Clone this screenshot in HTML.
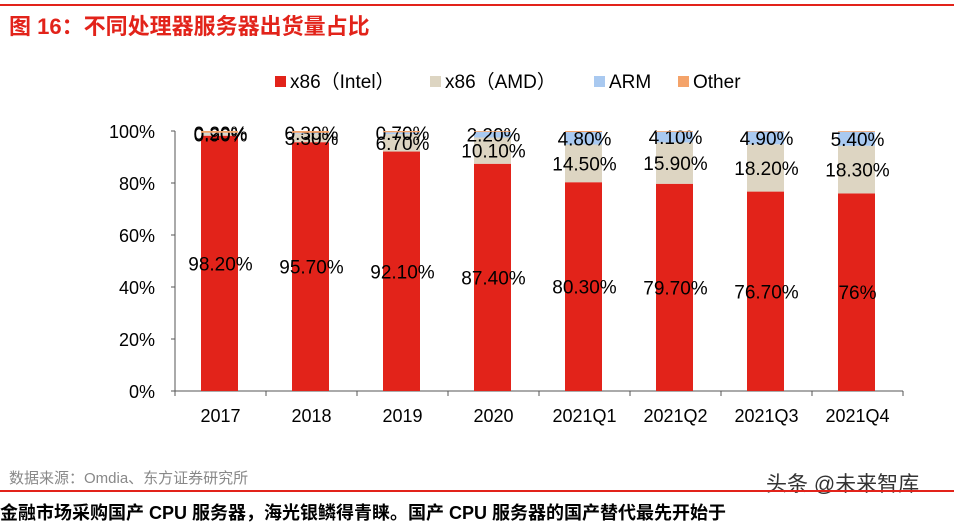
<!DOCTYPE html>
<html><head><meta charset="utf-8"><style>
body{margin:0;width:954px;height:508px;background:#fff;overflow:hidden;font-family:"Liberation Sans","Noto Sans CJK SC",sans-serif;position:relative}
.abs{position:absolute}
</style></head><body>
<div class="abs" style="left:0;top:4px;width:954px;height:2px;background:#e2231a"></div>
<div class="abs" style="left:9px;top:9px;font-size:22px;font-weight:bold;color:#e2231a;font-family:'Liberation Sans','Noto Sans CJK SC',sans-serif">图 16：不同处理器服务器出货量占比</div>
<svg class="abs" style="left:0;top:0" width="954" height="508" id="chart"></svg>
<div class="abs" style="left:9px;top:467px;font-size:15px;color:#888">数据来源：Omdia、东方证券研究所</div>
<div class="abs" style="left:766px;top:468px;font-size:21px;color:#333">头条 @未来智库</div>
<div class="abs" style="left:0;top:490px;width:954px;height:2px;background:#e2231a"></div>
<div class="abs" style="left:0;top:499px;font-size:18px;font-weight:bold;color:#000;white-space:nowrap">金融市场采购国产 CPU 服务器，海光银鳞得青睐。国产 CPU 服务器的国产替代最先开始于</div>
<script>
const categories=["2017","2018","2019","2020","2021Q1","2021Q2","2021Q3","2021Q4"];
const intel=[98.2,95.7,92.1,87.4,80.3,79.7,76.7,76];
const amd=[0.9,3.3,6.7,10.1,14.5,15.9,18.2,18.3];
const arm=[0.2,0.3,0.7,2.2,4.8,4.1,4.9,5.4];
const other=[0.7,0.7,0.5,0.3,0.4,0.3,0.2,0.3];
const intelLabels=["98.20%","95.70%","92.10%","87.40%","80.30%","79.70%","76.70%","76%"];
const amdLabels=["0.90%","3.30%","6.70%","10.10%","14.50%","15.90%","18.20%","18.30%"];
const armLabels=["0.20%","0.30%","0.70%","2.20%","4.80%","4.10%","4.90%","5.40%"];
const yTicks=[0,20,40,60,80,100];
const ns="http://www.w3.org/2000/svg";
const svg=document.getElementById('chart');
const x0=175,x1=903,y0=391,y1=131;
const band=(x1-x0)/categories.length;
const xs=i=>x0+band*(i+0.5);
const ys=v=>y0-(v/100)*(y0-y1);
function mk(t,a){const e=document.createElementNS(ns,t);for(const k in a)e.setAttribute(k,a[k]);svg.appendChild(e);return e;}
let e;
e=mk('line',{x1:x0,y1:y1,x2:x0,y2:y0,stroke:'#555','stroke-width':1});


e=mk('line',{x1:x0,y1:y0,x2:x1,y2:y0,stroke:'#555','stroke-width':1});


yTicks.forEach(v=>{
 mk('line',{x1:x0-4,y1:ys(v),x2:x0,y2:ys(v),stroke:'#555'});
 e=mk('text',{x:x0-20,y:ys(v)+7,'text-anchor':'end','font-size':18,fill:'#000'});e.textContent=v+'%';
 
 
});
for(let i=0;i<=categories.length;i++)mk('line',{x1:x0+band*i,y1:y0,x2:x0+band*i,y2:y0+5,stroke:'#555'});
const series=[[intel,'#e2231a','intel'],[amd,'#ddd5c2','amd'],[arm,'#a9c9f0','arm'],[other,'#f4a36a','other']];
const labs=[intelLabels,amdLabels,armLabels];
const bw=37;
categories.forEach((c,i)=>{
 let base=0;
 series.forEach((s,k)=>{
  const v=s[0][i];
  e=mk('rect',{x:xs(i)-bw/2-1,y:ys(base+v),width:bw,height:ys(base)-ys(base+v),fill:s[1]});
  
  
  if(k<3){
   const t=mk('text',{x:xs(i),y:ys(base+v/2)+7,'text-anchor':'middle','font-size':19,fill:'#000'});
   t.textContent=labs[k][i];
   
   
  }
  base+=v;
 });
 e=mk('text',{x:xs(i),y:y0+31,'text-anchor':'middle','font-size':18,fill:'#000'});e.textContent=c;
 
 
});
const leg=[['x86（Intel）','#e2231a',275],['x86（AMD）','#ddd5c2',430],['ARM','#a9c9f0',594],['Other','#f4a36a',678]];
leg.forEach(l=>{
 e=mk('rect',{x:l[2],y:76,width:11,height:11,fill:l[1]});
 
 
 e=mk('text',{x:l[2]+15,y:88,'font-size':19,fill:'#000'});e.textContent=l[0];
 
 
});
</script>
</body></html>
